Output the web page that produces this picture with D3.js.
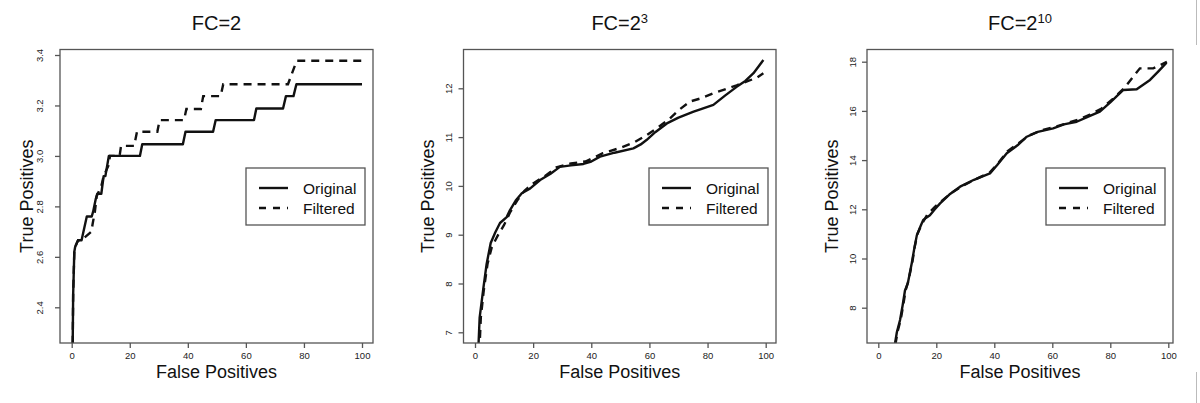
<!DOCTYPE html>
<html>
<head>
<meta charset="utf-8">
<script src="https://cdn.jsdelivr.net/npm/d3@7"></script>
<style>
  body { margin: 0; background: #fff; }
  svg { display: block; font-family: "Liberation Sans", Arial, sans-serif; }
</style>
</head>
<body>
<svg id="chart" width="1200" height="403"></svg>
<script>
// ---- data (false positives, true positives) ----
const xTicks = [0, 20, 40, 60, 80, 100];
const seriesNames = ["Original", "Filtered"];

const fc2Ticks = [2.4, 2.6, 2.8, 3.0, 3.2, 3.4];
const fc2TickLabels = ["2.4", "2.6", "2.8", "3.0", "3.2", "3.4"];
const fc2Original = [
  [0.3, 2.2], [0.5, 2.45], [0.9, 2.62], [1.2, 2.64], [2.2, 2.666], [3.4, 2.666],
  [5.2, 2.76], [6.9, 2.76], [7.4, 2.78], [8.3, 2.83], [8.8, 2.85], [10.2, 2.85],
  [11.0, 2.92], [11.6, 2.92], [12.8, 3.0], [23.5, 3.0], [24.3, 3.046], [38.3, 3.046],
  [39.2, 3.096], [48.7, 3.096], [49.6, 3.142], [62.8, 3.142], [63.6, 3.188],
  [72.8, 3.188], [73.8, 3.237], [76.4, 3.237], [77.4, 3.284], [100, 3.284]
];
const fc2Filtered = [
  [0.3, 2.2], [0.5, 2.45], [0.9, 2.62], [1.2, 2.64], [2.2, 2.666], [3.4, 2.666],
  [6.8, 2.70], [7.2, 2.73], [8.0, 2.78], [8.6, 2.84], [10.2, 2.88], [11.0, 2.92],
  [12.6, 2.96], [13.2, 3.0], [16.5, 3.0], [17.0, 3.04], [21.5, 3.04], [22.5, 3.096],
  [29.5, 3.096], [30.3, 3.142], [38.7, 3.142], [39.5, 3.186], [44.5, 3.186],
  [45.3, 3.237], [51.3, 3.237], [52.2, 3.284], [74.5, 3.284], [77.5, 3.377], [100, 3.377]
];

const fc8Ticks = [7, 8, 9, 10, 11, 12];
const fc8TickLabels = ["7", "8", "9", "10", "11", "12"];
const fc8Original = [
  [1.1, 6.6], [1.6, 7.3], [2.8, 7.87], [4.0, 8.4], [5.4, 8.83], [7.0, 9.05],
  [8.6, 9.24], [10.9, 9.36], [12.0, 9.5], [14.0, 9.7], [16.1, 9.85], [19.0, 9.95],
  [22.4, 10.12], [26.0, 10.25], [29.2, 10.39], [33.0, 10.42], [37.3, 10.45],
  [40.0, 10.5], [43.0, 10.6], [48.0, 10.68], [54.5, 10.77], [57.0, 10.85],
  [59.0, 10.94], [62.0, 11.1], [66.0, 11.28], [70.0, 11.4], [75.2, 11.52],
  [78.0, 11.58], [82.0, 11.66], [86.0, 11.85], [90.0, 12.03], [93.0, 12.15],
  [95.8, 12.31], [99.2, 12.58]
];
const fc8Filtered = [
  [1.5, 6.6], [2.0, 7.3], [3.0, 7.85], [4.3, 8.4], [5.8, 8.75], [8.0, 9.0],
  [10.0, 9.2], [12.0, 9.45], [14.5, 9.7], [17.0, 9.9], [20.0, 10.05], [24.0, 10.2],
  [28.0, 10.38], [33.0, 10.46], [38.0, 10.5], [44.0, 10.67], [50.0, 10.78],
  [55.0, 10.9], [59.0, 11.04], [63.0, 11.2], [67.0, 11.38], [70.0, 11.55],
  [74.0, 11.73], [78.0, 11.8], [82.0, 11.9], [86.0, 11.98], [90.0, 12.06],
  [94.0, 12.15], [97.0, 12.22], [99.2, 12.31]
];

const fc1024Ticks = [8, 10, 12, 14, 16, 18];
const fc1024TickLabels = ["8", "10", "12", "14", "16", "18"];
const fc1024Original = [
  [5.7, 6.5], [6.4, 7.0], [7.5, 7.5], [8.4, 8.1], [9.2, 8.7], [10.2, 9.0],
  [11.6, 9.85], [12.4, 10.4], [13.3, 10.95], [14.7, 11.35], [15.5, 11.57],
  [17.8, 11.76], [19.5, 12.0], [21.3, 12.24], [24.5, 12.6], [28.2, 12.92],
  [33.0, 13.2], [38.5, 13.46], [41.0, 13.8], [44.3, 14.28], [48.0, 14.6],
  [51.2, 14.95], [55.0, 15.15], [60.3, 15.29], [64.0, 15.45], [68.4, 15.56],
  [72.0, 15.75], [76.4, 15.97], [80.0, 16.35], [84.5, 16.85], [89.1, 16.88],
  [93.7, 17.26], [96.5, 17.6], [99.4, 17.96]
];
const fc1024Filtered = [
  [5.9, 6.5], [6.6, 7.0], [7.7, 7.5], [8.6, 8.1], [9.4, 8.7], [10.4, 9.1],
  [11.8, 9.9], [12.6, 10.5], [13.5, 11.0], [15.0, 11.4], [17.0, 11.8], [19.5, 12.1],
  [22.0, 12.35], [25.0, 12.65], [29.0, 12.95], [34.0, 13.25], [38.5, 13.5],
  [41.5, 13.9], [44.5, 14.35], [48.5, 14.7], [52.0, 15.0], [56.0, 15.2],
  [61.0, 15.35], [65.0, 15.5], [69.0, 15.65], [73.0, 15.85], [77.0, 16.1],
  [81.0, 16.5], [85.0, 16.95], [87.9, 17.39], [90.2, 17.73], [94.8, 17.73],
  [97.0, 17.85], [99.5, 18.0]
];

const panels = [
  { base: "FC=2", sup: "", left: 60, right: 373, x0: 71.7, x100: 362,
    yTicks: fc2Ticks, yLabels: fc2TickLabels, yLo: 2.4, yLoPx: 307.3, yHi: 3.4, yHiPx: 55,
    yLabelX: 27, tickLabelX: 40, original: fc2Original, filtered: fc2Filtered },
  { base: "FC=2", sup: "3", left: 463.5, right: 776, x0: 475, x100: 765.7,
    yTicks: fc8Ticks, yLabels: fc8TickLabels, yLo: 7, yLoPx: 332.3, yHi: 12, yHiPx: 88.3,
    yLabelX: 428, tickLabelX: 449, original: fc8Original, filtered: fc8Filtered },
  { base: "FC=2", sup: "10", left: 867, right: 1173, x0: 878.3, x100: 1168.3,
    yTicks: fc1024Ticks, yLabels: fc1024TickLabels, yLo: 8, yLoPx: 307.7, yHi: 18, yHiPx: 61.7,
    yLabelX: 832, tickLabelX: 853, original: fc1024Original, filtered: fc1024Filtered }
];
const plotTop = 49.5, plotBottom = 343;
const ink = "#111", frame = "#555";

const svg = d3.select("#chart");

panels.forEach((p, i) => {
  const x = d3.scaleLinear().domain([0, 100]).range([p.x0, p.x100]);
  const y = d3.scaleLinear().domain([p.yLo, p.yHi]).range([p.yLoPx, p.yHiPx]);
  const g = svg.append("g");

  // clip to plot box
  const clipId = "clip" + i;
  svg.append("clipPath").attr("id", clipId)
    .append("rect").attr("x", p.left).attr("y", plotTop)
    .attr("width", p.right - p.left).attr("height", plotBottom - plotTop);

  // title with superscript
  const cx = (p.left + p.right) / 2;
  const t = g.append("text").attr("x", cx).attr("y", 30)
    .attr("text-anchor", "middle").attr("font-size", 20).attr("fill", ink);
  t.append("tspan").text(p.base);
  if (p.sup) t.append("tspan").attr("dy", -7).attr("font-size", 13).text(p.sup);

  // lines
  const line = d3.line().x(d => x(d[0])).y(d => y(d[1]));
  const lines = g.append("g").attr("clip-path", `url(#${clipId})`);
  lines.append("path").datum(p.original).attr("d", line)
    .attr("fill", "none").attr("stroke", ink).attr("stroke-width", 2.4)
    .attr("stroke-linejoin", "round");
  lines.append("path").datum(p.filtered).attr("d", line)
    .attr("fill", "none").attr("stroke", ink).attr("stroke-width", 2.4)
    .attr("stroke-dasharray", "8,6");

  // box
  g.append("rect").attr("x", p.left).attr("y", plotTop)
    .attr("width", p.right - p.left).attr("height", plotBottom - plotTop)
    .attr("fill", "none").attr("stroke", frame).attr("stroke-width", 1.3);

  // x axis
  const xa = g.append("g").attr("transform", `translate(0,${plotBottom})`)
    .call(d3.axisBottom(x).tickValues(xTicks).tickSize(5).tickPadding(4));
  xa.select(".domain").remove();
  xa.selectAll("line").attr("stroke", frame).attr("stroke-width", 1.3);
  xa.selectAll("text").attr("font-size", 9.5).attr("fill", "#222")
    .attr("font-family", "Liberation Sans, Arial, sans-serif");

  // y axis (labels parallel to axis)
  const ya = g.append("g").attr("transform", `translate(${p.left},0)`)
    .call(d3.axisLeft(y).tickValues(p.yTicks).tickSize(5)
      .tickFormat((d, k) => p.yLabels[k]));
  ya.select(".domain").remove();
  ya.selectAll("line").attr("stroke", frame).attr("stroke-width", 1.3);
  ya.selectAll("text")
    .attr("font-size", 9.5).attr("fill", "#222")
    .attr("font-family", "Liberation Sans, Arial, sans-serif")
    .attr("text-anchor", "middle").attr("x", null).attr("dy", null)
    .attr("transform", `translate(${p.tickLabelX - p.left + 3},0) rotate(-90)`);

  // axis titles
  g.append("text").attr("x", cx).attr("y", 378).attr("text-anchor", "middle")
    .attr("font-size", 18).attr("fill", ink).text("False Positives");
  g.append("text").attr("transform", `translate(${p.yLabelX + 6},${(plotTop + plotBottom) / 2}) rotate(-90)`)
    .attr("text-anchor", "middle").attr("font-size", 18).attr("fill", ink)
    .text("True Positives");

  // legend
  const lx = p.right - 127, ly = 168;
  const lg = g.append("g");
  lg.append("rect").attr("x", lx).attr("y", ly).attr("width", 119).attr("height", 57)
    .attr("fill", "#fff").attr("stroke", frame).attr("stroke-width", 1.3);
  seriesNames.forEach((name, k) => {
    const yy = ly + 20 + k * 20;
    lg.append("line").attr("x1", lx + 13).attr("x2", lx + 42).attr("y1", yy).attr("y2", yy)
      .attr("stroke", ink).attr("stroke-width", 2.4)
      .attr("stroke-dasharray", k ? "7,7" : null);
    lg.append("text").attr("x", lx + 57).attr("y", yy + 5.5)
      .attr("font-size", 15.5).attr("fill", ink).text(name);
  });
});

// thin crop edge at the right of the figure
svg.append("line").attr("x1", 1196.5).attr("x2", 1196.5).attr("y1", 0).attr("y2", 45)
  .attr("stroke", "#bbb");
svg.append("line").attr("x1", 1196.5).attr("x2", 1196.5).attr("y1", 372).attr("y2", 403)
  .attr("stroke", "#bbb");
</script>
</body>
</html>
